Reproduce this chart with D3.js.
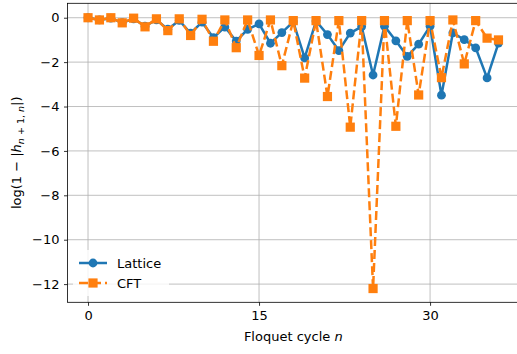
<!DOCTYPE html>
<html>
<head>
<meta charset="utf-8">
<script src="https://cdn.jsdelivr.net/npm/d3@7"></script>
<style>
  body { margin: 0; background: #fff; }
  svg { font-family: "DejaVu Sans", sans-serif; }
</style>
</head>
<body>
<div id="chart"></div>
<script>
var cycles = d3.range(0, 37);
var lattice = [0, -0.1, -0.02, -0.22, -0.05, -0.38, -0.1, -0.52, -0.12, -0.7,
               -0.2, -0.9, -0.42, -1.05, -0.52, -0.28, -1.15, -0.67, -0.18, -1.81,
               -0.15, -0.76, -1.48, -0.69, -0.4, -2.58, -0.38, -1.04, -1.74, -1.19,
               -0.38, -3.49, -0.68, -0.99, -1.36, -2.71, -1.14];
var cft = [0, -0.1, 0, -0.23, -0.02, -0.41, -0.05, -0.58, -0.05, -0.8,
           -0.07, -1.06, -0.1, -1.35, -0.1, -1.7, -0.1, -2.16, -0.13, -2.72,
           -0.13, -3.55, -0.13, -4.93, -0.13, -12.2, -0.13, -4.89, -0.13, -3.48,
           -0.13, -2.7, -0.1, -2.08, -0.13, -0.92, -1.0];
var xTicks = [0, 15, 30];
var yTicks = [0, -2, -4, -6, -8, -10, -12];

var series = [
  {name: "Lattice", values: lattice, color: "#1f77b4", dash: null, marker: "circle"},
  {name: "CFT", values: cft, color: "#ff7f0e", dash: "9,4", marker: "square"}
];

var width = 517, height = 354;
var margin = {left: 67.5, right: -2, top: 3.3, bottom: 51.7};

var svg = d3.select("#chart").append("svg")
    .attr("width", width)
    .attr("height", height);

var x = d3.scaleLinear()
    .domain([-1.8, 37.8])
    .range([margin.left, width - margin.right]);
var y = d3.scaleLinear()
    .domain([-12.82, 0.65])
    .range([height - margin.bottom, margin.top]);

// grid
svg.append("g").selectAll("line.gx")
    .data(xTicks).enter().append("line")
    .attr("x1", function(d) { return x(d); })
    .attr("x2", function(d) { return x(d); })
    .attr("y1", margin.top)
    .attr("y2", height - margin.bottom)
    .style("stroke", "#b0b0b0")
    .style("stroke-width", 0.8);
svg.append("g").selectAll("line.gy")
    .data(yTicks).enter().append("line")
    .attr("x1", margin.left)
    .attr("x2", width - margin.right)
    .attr("y1", function(d) { return y(d); })
    .attr("y2", function(d) { return y(d); })
    .style("stroke", "#b0b0b0")
    .style("stroke-width", 0.8);

// lines and markers
var line = d3.line()
    .x(function(d, i) { return x(cycles[i]); })
    .y(function(d) { return y(d); });

var plot = svg.append("g");
series.forEach(function(s) {
  plot.append("path")
      .datum(s.values)
      .attr("d", line)
      .style("fill", "none")
      .style("stroke", s.color)
      .style("stroke-width", 2.5)
      .style("stroke-dasharray", s.dash);
  if (s.marker === "circle") {
    plot.selectAll(null)
        .data(s.values).enter().append("circle")
        .attr("cx", function(d, i) { return x(cycles[i]); })
        .attr("cy", function(d) { return y(d); })
        .attr("r", 4.4)
        .style("fill", s.color);
  } else {
    plot.selectAll(null)
        .data(s.values).enter().append("rect")
        .attr("x", function(d, i) { return x(cycles[i]) - 4.6; })
        .attr("y", function(d) { return y(d) - 4.6; })
        .attr("width", 9.2)
        .attr("height", 9.2)
        .style("fill", s.color);
  }
});

// axes
var xAxis = svg.append("g")
    .attr("transform", "translate(0," + (height - margin.bottom) + ")")
    .call(d3.axisBottom(x).tickValues(xTicks).tickSize(3.5).tickPadding(4.5));
var yAxis = svg.append("g")
    .attr("transform", "translate(" + margin.left + ",0)")
    .call(d3.axisLeft(y).tickValues(yTicks).tickSize(3.5).tickPadding(4.5)
      .tickFormat(function(d) { return d < 0 ? "\u2212" + Math.abs(d) : d; }));
[xAxis, yAxis].forEach(function(a) {
  a.select(".domain").remove();
  a.selectAll("line").style("stroke", "#000").style("stroke-width", 0.8);
  a.selectAll("text").style("font-size", "13px").style("fill", "#000")
      .style("font-family", "DejaVu Sans");
});

// frame
svg.append("rect")
    .attr("x", margin.left)
    .attr("y", margin.top)
    .attr("width", width - margin.right - margin.left)
    .attr("height", height - margin.bottom - margin.top)
    .style("fill", "none")
    .style("stroke", "#000")
    .style("stroke-width", 0.8);

// labels
svg.append("text")
    .attr("x", (margin.left + width - margin.right) / 2)
    .attr("y", 341)
    .attr("text-anchor", "middle")
    .style("font-size", "13px")
    .html('Floquet cycle <tspan font-style="italic">n</tspan>');

svg.append("text")
    .attr("transform", "translate(21," + ((margin.top + height - margin.bottom) / 2) + ") rotate(-90)")
    .attr("text-anchor", "middle")
    .style("font-size", "13px")
    .html('log(1 \u2212 |<tspan font-style="italic">h</tspan><tspan font-size="9.5px" dy="3"><tspan font-style="italic">n</tspan> + 1, <tspan font-style="italic">n</tspan></tspan><tspan dy="-3">|)</tspan>');

// legend
var legend = svg.append("g");
legend.append("rect")
    .attr("x", 73).attr("y", 250)
    .attr("width", 96).attr("height", 46)
    .attr("rx", 3)
    .style("fill", "#fff")
    .style("fill-opacity", 0.8);
series.forEach(function(s, i) {
  var ly = 263 + i * 20;
  legend.append("line")
      .attr("x1", 79).attr("x2", 107)
      .attr("y1", ly).attr("y2", ly)
      .style("stroke", s.color)
      .style("stroke-width", 2.5)
      .style("stroke-dasharray", s.dash);
  if (s.marker === "circle") {
    legend.append("circle").attr("cx", 93).attr("cy", ly).attr("r", 4.4).style("fill", s.color);
  } else {
    legend.append("rect").attr("x", 88.4).attr("y", ly - 4.6)
        .attr("width", 9.2).attr("height", 9.2).style("fill", s.color);
  }
  legend.append("text")
      .attr("x", 117).attr("y", ly + 4.5)
      .style("font-size", "13px")
      .text(s.name);
});
</script>
</body>
</html>
